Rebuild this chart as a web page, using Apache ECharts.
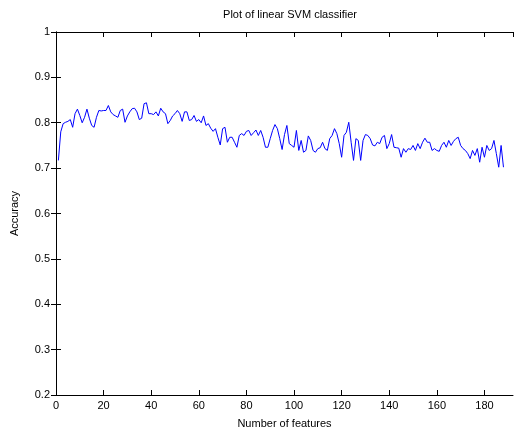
<!DOCTYPE html>
<html><head><meta charset="utf-8">
<script src="https://cdn.jsdelivr.net/npm/echarts@6/dist/echarts.min.js"></script>
<style>html,body{margin:0;padding:0;background:#fff}#c{width:515px;height:434px}</style>
</head><body><div id="c"></div>
<script>
var titleText = "Plot of linear SVM classifier";
var xName = "Number of features";
var yName = "Accuracy";
var xTicks = [0,20,40,60,80,100,120,140,160,180];
var yTicks = [0.2,0.3,0.4,0.5,0.6,0.7,0.8,0.9,1];
var features = [];
for (var i = 1; i <= 188; i++) features.push(i);
var accuracy = [
0.717,0.780,0.798,0.801,0.803,0.807,0.790,0.820,0.830,0.816,
0.800,0.812,0.830,0.810,0.794,0.790,0.812,0.827,0.826,0.827,
0.827,0.838,0.824,0.818,0.815,0.812,0.827,0.830,0.801,0.815,
0.824,0.831,0.832,0.824,0.807,0.810,0.842,0.844,0.820,0.820,
0.818,0.824,0.815,0.832,0.824,0.820,0.798,0.805,0.815,0.820,
0.827,0.820,0.803,0.824,0.824,0.805,0.807,0.816,0.803,0.807,
0.800,0.815,0.794,0.798,0.788,0.781,0.787,0.768,0.751,0.787,
0.790,0.757,0.768,0.768,0.757,0.746,0.772,0.776,0.772,0.781,
0.783,0.772,0.778,0.784,0.772,0.783,0.768,0.746,0.746,0.765,
0.783,0.796,0.787,0.765,0.741,0.774,0.794,0.754,0.750,0.746,
0.783,0.739,0.761,0.735,0.739,0.771,0.761,0.739,0.735,0.743,
0.745,0.757,0.743,0.739,0.765,0.772,0.787,0.776,0.754,0.724,
0.772,0.779,0.801,0.757,0.717,0.765,0.761,0.717,0.761,0.774,
0.772,0.765,0.751,0.749,0.757,0.754,0.768,0.772,0.743,0.754,
0.774,0.746,0.745,0.744,0.724,0.743,0.735,0.743,0.741,0.750,
0.739,0.754,0.743,0.757,0.766,0.757,0.757,0.739,0.743,0.739,
0.737,0.750,0.757,0.746,0.761,0.750,0.759,0.765,0.768,0.750,
0.743,0.739,0.732,0.721,0.739,0.728,0.743,0.713,0.746,0.724,
0.750,0.739,0.743,0.761,0.732,0.702,0.750,0.702
];
var data = features.map(function(f, i){ return [f, accuracy[i]]; });
var font = "Liberation Sans, Arial, sans-serif";
var chart = echarts.init(document.getElementById('c'));
var lineAx = {lineStyle:{color:'#000', width:1}};
chart.setOption({
  animation:false,
  backgroundColor:'#fff',
  title:{text:titleText, left:285, textAlign:'center', top:4,
    textStyle:{fontFamily:font, fontSize:11, fontWeight:'normal', color:'#000'}},
  grid:{left:56, right:2, top:32, bottom:39, containLabel:false},
  xAxis:[{
    type:'value', min:0, max:192, interval:20, position:'bottom',
    name:xName, nameLocation:'middle', nameGap:23,
    nameTextStyle:{fontFamily:font, fontSize:11, color:'#000'},
    axisLine:lineAx, axisTick:{inside:true, length:5, lineStyle:{color:'#000'}},
    axisLabel:{fontFamily:font, fontSize:11, color:'#000', margin:5, showMaxLabel:false,
      formatter:function(v){ return xTicks.indexOf(v) >= 0 ? String(v) : ''; }},
    splitLine:{show:false}
  },{
    type:'value', min:0, max:192, interval:20, position:'top',
    axisLine:lineAx, axisTick:{inside:true, length:5, lineStyle:{color:'#000'}},
    axisLabel:{show:false}, splitLine:{show:false}
  }],
  yAxis:[{
    type:'value', min:0.2, max:1, interval:0.1, position:'left',
    name:yName, nameLocation:'middle', nameGap:36, nameRotate:90,
    nameTextStyle:{fontFamily:font, fontSize:11, color:'#000'},
    axisLine:lineAx, axisTick:{inside:true, length:5, lineStyle:{color:'#000'}},
    axisLabel:{fontFamily:font, fontSize:11, color:'#000', margin:6,
      formatter:function(v){ var r = Math.round(v*10)/10; return yTicks.indexOf(r) >= 0 ? String(r) : ''; }},
    splitLine:{show:false}
  },{
    type:'value', min:0.2, max:1, interval:0.1, position:'right',
    axisLine:lineAx, axisTick:{inside:true, length:5, lineStyle:{color:'#000'}},
    axisLabel:{show:false}, splitLine:{show:false}
  }],
  series:[{
    type:'line', data:data, xAxisIndex:0, yAxisIndex:0,
    showSymbol:false, symbol:'none',
    lineStyle:{color:'#0000ff', width:1}
  }]
});
</script>
</body></html>
